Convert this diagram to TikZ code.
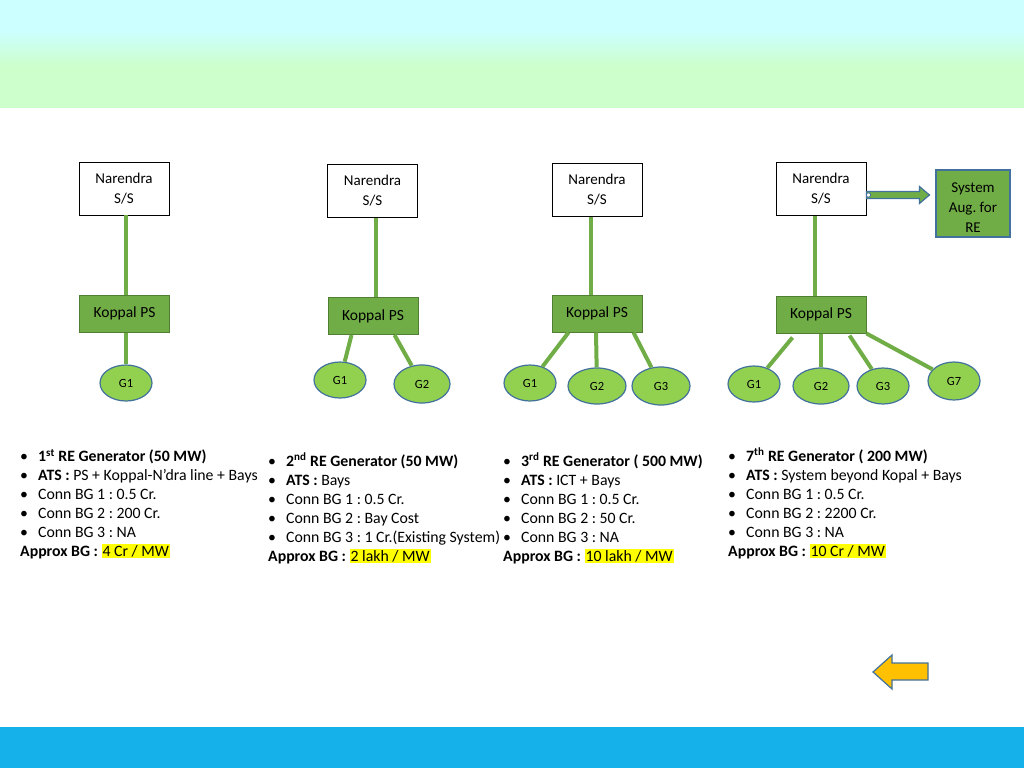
\documentclass[tikz,border=0pt]{standalone}
\usepackage{fontspec}
\setmainfont{Carlito}
\usetikzlibrary{calc,shapes.geometric}
\definecolor{topcyan}{HTML}{CCFFFF}
\definecolor{topgreen}{HTML}{CCFFCC}
\definecolor{barblue}{HTML}{14B1EA}
\definecolor{lgreen}{HTML}{70AD47}
\definecolor{kborder}{HTML}{507E32}
\definecolor{gfill}{HTML}{92D050}
\definecolor{bborder}{HTML}{41719C}
\definecolor{ayellow}{HTML}{FFC000}
\definecolor{hyellow}{HTML}{FFFF00}
\newcommand{\bul}{\makebox[18pt][l]{•}}
\newcommand{\hl}[1]{{\setlength{\fboxsep}{1pt}\colorbox{hyellow}{#1}}}
\frenchspacing
\begin{document}
\begin{tikzpicture}[x=1pt,y=-1pt,
  nbox/.style={draw=black, line width=0.9pt, fill=white, minimum width=90pt, minimum height=53pt, align=center, inner sep=0pt, font=\fontsize{15}{20}\selectfont},
  kbox/.style={draw=kborder, fill=lgreen, line width=1pt, minimum width=90pt, minimum height=37pt, inner sep=0pt, font=\fontsize{15.5}{16}\selectfont},
  gen/.style={ellipse, draw=bborder, fill=gfill, line width=1.2pt, minimum width=52pt, minimum height=36pt, inner sep=0pt, font=\fontsize{12.5}{13}\selectfont},
  link/.style={draw=lgreen, line width=4pt},
  info/.style={anchor=north west, inner sep=0pt, align=left, font=\fontsize{15.8}{19}\selectfont},
  blockarrow/.style={draw=bborder, line width=1.2pt, line join=miter}
]
\useasboundingbox (0,0) rectangle (1024,768);
% background
\fill[topcyan] (0,0) rectangle (1024,30);
\shade[top color=topcyan, bottom color=topgreen] (0,30) rectangle (1024,66);
\fill[topgreen] (0,66) rectangle (1024,108);
\fill[barblue] (0,727) rectangle (1024,768);

% Diagram 1
\node[nbox] (n1) at (124,188.5) {Narendra\\S/S};
\node[kbox] (k1) at (124.5,313.5) {Koppal PS};
\node[gen] (g11) at (126,383) {G1};
\draw[link] (n1.south -| 126,0) -- (k1.north -| 126,0);
\draw[link] (k1.south -| 126,0) -- (g11);

% Diagram 2
\node[nbox] (n2) at (372.5,191) {Narendra\\S/S};
\node[kbox] (k2) at (373,316) {Koppal PS};
\node[gen] (g21) at (340,380) {G1};
\node[gen, minimum width=56pt, minimum height=38pt] (g22) at (422,384) {G2};
\draw[link] (n2.south -| 376,0) -- (k2.north -| 376,0);
\draw[link] ($(k2.south west)+(24,0)$) -- (g21);
\draw[link] ($(k2.south west)+(67,0)$) -- (g22);

% Diagram 3
\node[nbox] (n3) at (597,190) {Narendra\\S/S};
\node[kbox] (k3) at (597,313.5) {Koppal PS};
\node[gen] (g31) at (530,383) {G1};
\node[gen, minimum width=58pt] (g32) at (597,386) {G2};
\node[gen, minimum width=58pt, minimum height=38pt] (g33) at (661,386) {G3};
\draw[link] (n3.south -| 591,0) -- (k3.north -| 591,0);
\draw[link] ($(k3.south west)+(17,0)$) -- (g31);
\draw[link] (k3.south -| 596,0) -- (g32);
\draw[link] ($(k3.south west)+(82,0)$) -- (g33);

% Diagram 4
\node[nbox] (n4) at (821,189) {Narendra\\S/S};
\node[kbox] (k4) at (821,314.5) {Koppal PS};
\node[gen] (g41) at (754,384) {G1};
\node[gen, minimum width=56pt] (g42) at (821,386) {G2};
\node[gen] (g43) at (883,386) {G3};
\node[gen, minimum height=38pt] (g47) at (954,381) {G7};
\draw[link] (n4.south -| 815,0) -- (k4.north -| 815,0);
\draw[link] ($(k4.south west)+(17,4)$) -- (g41);
\draw[link] (k4.south -| 821,0) -- (g42);
\draw[link] ($(k4.south west)+(74,2)$) -- (g43);
\draw[link] (k4.south east) -- (g47);

% System augmentation
\node[draw=bborder, fill=lgreen, line width=1.2pt, minimum width=74pt, minimum height=67pt, inner sep=0pt, align=center, font=\fontsize{15}{20}\selectfont] (sa) at (973,203.5) {\rule{0pt}{17pt}System\\Aug. for\\RE};
\coordinate (as) at ($(n4.east)+(0,6)$);
\draw[blockarrow, fill=lgreen] ($(as)+(0,-3.5)$) -- ($(as)+(53,-3.5)$) -- ($(as)+(53,-8.5)$) -- ($(as)+(63,0)$) -- ($(as)+(53,8.5)$) -- ($(as)+(53,3.5)$) -- ($(as)+(0,3.5)$) -- cycle;
\draw[draw=bborder, fill=white, line width=0.8pt] ($(as)+(2,0)$) circle (2.2pt);

% Text blocks
\node[info] (t1) at (20,449) {\bul\textbf{1\textsuperscript{st} RE Generator (50 MW)}\\
\bul\textbf{ATS :} PS + Koppal-N’dra line + Bays\\
\bul Conn BG 1 : 0.5 Cr.\\
\bul Conn BG 2 : 200 Cr.\\
\bul Conn BG 3 : NA\\
\textbf{Approx BG :} \hl{4 Cr / MW}};

\node[info] (t2) at (268,453) {\bul\textbf{2\textsuperscript{nd} RE Generator (50 MW)}\\
\bul\textbf{ATS :} Bays\\
\bul Conn BG 1 : 0.5 Cr.\\
\bul Conn BG 2 : Bay Cost\\
\bul Conn BG 3 : 1 Cr.(Existing System)\\
\textbf{Approx BG :} \hl{2 lakh / MW}};

\node[info] (t3) at (503,453) {\bul\textbf{3\textsuperscript{rd} RE Generator ( 500 MW)}\\
\bul\textbf{ATS :} ICT + Bays\\
\bul Conn BG 1 : 0.5 Cr.\\
\bul Conn BG 2 : 50 Cr.\\
\bul Conn BG 3 : NA\\
\textbf{Approx BG :} \hl{10 lakh / MW}};

\node[info] (t4) at (728,448) {\bul\textbf{7\textsuperscript{th} RE Generator ( 200 MW)}\\
\bul\textbf{ATS :} System beyond Kopal + Bays\\
\bul Conn BG 1 : 0.5 Cr.\\
\bul Conn BG 2 : 2200 Cr.\\
\bul Conn BG 3 : NA\\
\textbf{Approx BG :} \hl{10 Cr / MW}};

% back arrow
\draw[blockarrow, fill=ayellow] (873,672) -- (892,655) -- (892,663) -- (928,663) -- (928,680) -- (892,680) -- (892,689) -- cycle;
\end{tikzpicture}
\end{document}
